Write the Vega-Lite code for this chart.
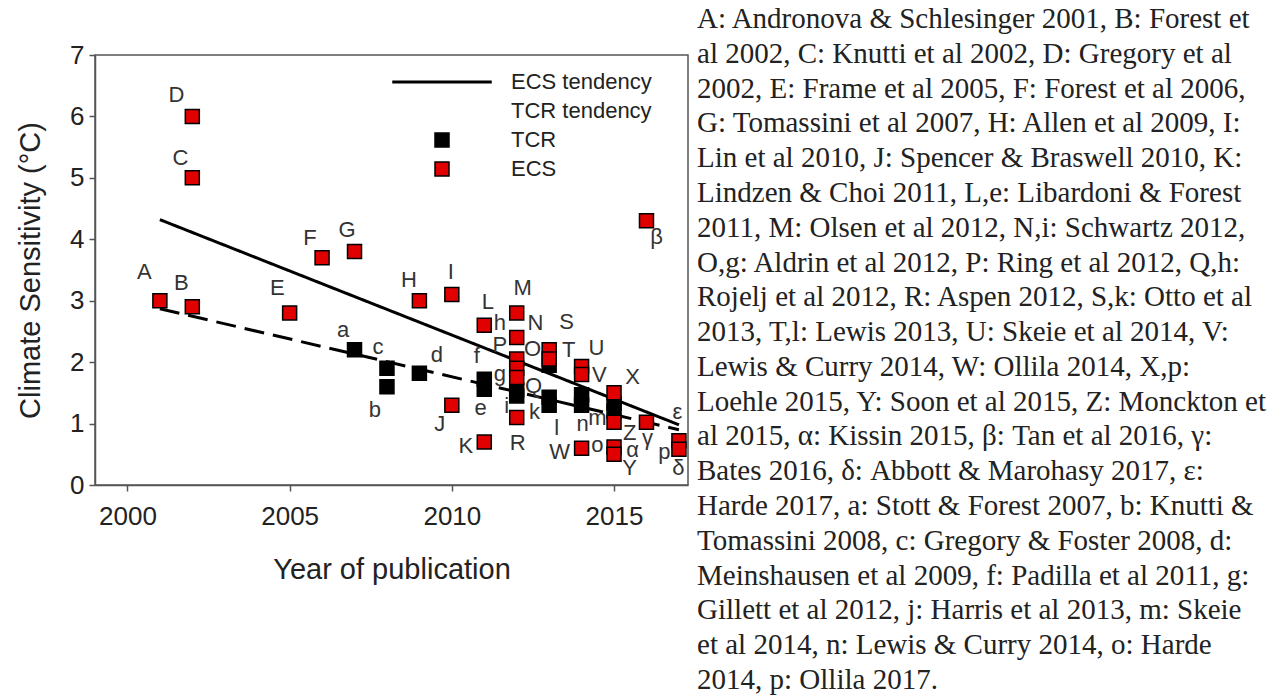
{
  "$schema": "https://vega.github.io/schema/vega-lite/v6.json",
  "autosize": {"type": "none"},
  "width": 593,
  "height": 430,
  "padding": {"left": 95, "top": 55, "right": 593, "bottom": 212},
  "background": "white",
  "config": {
    "font": "Liberation Sans",
    "view": {"stroke": "#555", "strokeWidth": 1.5},
    "axis": {"grid": false, "domainColor": "#555", "domainWidth": 1.5, "tickColor": "#555", "tickWidth": 1.5, "tickSize": 6, "labelColor": "#222", "titleColor": "#222", "labelFont": "Liberation Sans", "titleFont": "Liberation Sans", "titleFontWeight": "normal"}
  },
  "datasets": {
    "trend": [
      {"series": "ECS tendency", "year": 2001, "value": 4.32},
      {"series": "ECS tendency", "year": 2017, "value": 0.98},
      {"series": "TCR tendency", "year": 2001, "value": 2.87},
      {"series": "TCR tendency", "year": 2017, "value": 0.9}
    ],
    "points": [
      {"year": 2007, "value": 2.2, "type": "TCR"},
      {"year": 2008, "value": 1.9, "type": "TCR"},
      {"year": 2008, "value": 1.6, "type": "TCR"},
      {"year": 2009, "value": 1.82, "type": "TCR"},
      {"year": 2011, "value": 1.72, "type": "TCR"},
      {"year": 2011, "value": 1.56, "type": "TCR"},
      {"year": 2012, "value": 1.55, "type": "TCR"},
      {"year": 2012, "value": 1.45, "type": "TCR"},
      {"year": 2013, "value": 1.95, "type": "TCR"},
      {"year": 2013, "value": 1.43, "type": "TCR"},
      {"year": 2013, "value": 1.3, "type": "TCR"},
      {"year": 2014, "value": 1.47, "type": "TCR"},
      {"year": 2014, "value": 1.3, "type": "TCR"},
      {"year": 2015, "value": 1.33, "type": "TCR"},
      {"year": 2015, "value": 1.2, "type": "TCR"},
      {"year": 2001, "value": 3.0, "type": "ECS"},
      {"year": 2002, "value": 2.9, "type": "ECS"},
      {"year": 2002, "value": 5.0, "type": "ECS"},
      {"year": 2002, "value": 6.0, "type": "ECS"},
      {"year": 2005, "value": 2.8, "type": "ECS"},
      {"year": 2006, "value": 3.7, "type": "ECS"},
      {"year": 2007, "value": 3.8, "type": "ECS"},
      {"year": 2009, "value": 3.0, "type": "ECS"},
      {"year": 2010, "value": 3.1, "type": "ECS"},
      {"year": 2010, "value": 1.3, "type": "ECS"},
      {"year": 2011, "value": 0.7, "type": "ECS"},
      {"year": 2011, "value": 2.6, "type": "ECS"},
      {"year": 2012, "value": 2.8, "type": "ECS"},
      {"year": 2012, "value": 2.4, "type": "ECS"},
      {"year": 2012, "value": 2.05, "type": "ECS"},
      {"year": 2012, "value": 1.9, "type": "ECS"},
      {"year": 2012, "value": 1.75, "type": "ECS"},
      {"year": 2012, "value": 1.1, "type": "ECS"},
      {"year": 2013, "value": 2.2, "type": "ECS"},
      {"year": 2013, "value": 2.05, "type": "ECS"},
      {"year": 2014, "value": 1.93, "type": "ECS"},
      {"year": 2014, "value": 1.8, "type": "ECS"},
      {"year": 2014, "value": 0.6, "type": "ECS"},
      {"year": 2015, "value": 1.5, "type": "ECS"},
      {"year": 2015, "value": 1.02, "type": "ECS"},
      {"year": 2015, "value": 0.62, "type": "ECS"},
      {"year": 2015, "value": 0.5, "type": "ECS"},
      {"year": 2016, "value": 4.3, "type": "ECS"},
      {"year": 2016, "value": 1.02, "type": "ECS"},
      {"year": 2017, "value": 0.72, "type": "ECS"},
      {"year": 2017, "value": 0.58, "type": "ECS"}
    ],
    "labels": [
      {"t": "A", "lyear": 2000.52, "lval": 3.47},
      {"t": "B", "lyear": 2001.66, "lval": 3.29},
      {"t": "C", "lyear": 2001.63, "lval": 5.33},
      {"t": "D", "lyear": 2001.51, "lval": 6.35},
      {"t": "E", "lyear": 2004.62, "lval": 3.21},
      {"t": "F", "lyear": 2005.63, "lval": 4.02},
      {"t": "G", "lyear": 2006.77, "lval": 4.15},
      {"t": "H", "lyear": 2008.68, "lval": 3.34},
      {"t": "I", "lyear": 2009.97, "lval": 3.47},
      {"t": "J", "lyear": 2009.63, "lval": 0.99},
      {"t": "K", "lyear": 2010.43, "lval": 0.64},
      {"t": "L", "lyear": 2011.11, "lval": 2.98},
      {"t": "M", "lyear": 2012.18, "lval": 3.21},
      {"t": "h", "lyear": 2011.48, "lval": 2.64},
      {"t": "N", "lyear": 2012.58, "lval": 2.64},
      {"t": "P", "lyear": 2011.48, "lval": 2.28},
      {"t": "O", "lyear": 2012.49, "lval": 2.21},
      {"t": "g", "lyear": 2011.48, "lval": 1.81},
      {"t": "Q", "lyear": 2012.52, "lval": 1.61},
      {"t": "f", "lyear": 2010.77, "lval": 2.1},
      {"t": "e", "lyear": 2010.89, "lval": 1.25},
      {"t": "i", "lyear": 2011.69, "lval": 1.29},
      {"t": "k", "lyear": 2012.55, "lval": 1.19},
      {"t": "R", "lyear": 2012.03, "lval": 0.68},
      {"t": "l", "lyear": 2013.23, "lval": 0.93},
      {"t": "S", "lyear": 2013.54, "lval": 2.65},
      {"t": "T", "lyear": 2013.6, "lval": 2.2},
      {"t": "U", "lyear": 2014.46, "lval": 2.23},
      {"t": "V", "lyear": 2014.55, "lval": 1.79},
      {"t": "X", "lyear": 2015.57, "lval": 1.76},
      {"t": "n", "lyear": 2014.03, "lval": 0.99},
      {"t": "m", "lyear": 2014.49, "lval": 1.09},
      {"t": "W", "lyear": 2013.32, "lval": 0.54},
      {"t": "o", "lyear": 2014.49, "lval": 0.65},
      {"t": "Z", "lyear": 2015.48, "lval": 0.85},
      {"t": "γ", "lyear": 2016.03, "lval": 0.77},
      {"t": "α", "lyear": 2015.57, "lval": 0.57},
      {"t": "Y", "lyear": 2015.48, "lval": 0.28},
      {"t": "p", "lyear": 2016.55, "lval": 0.54},
      {"t": "δ", "lyear": 2016.98, "lval": 0.28},
      {"t": "ε", "lyear": 2016.95, "lval": 1.19},
      {"t": "β", "lyear": 2016.31, "lval": 4.04},
      {"t": "a", "lyear": 2006.65, "lval": 2.52},
      {"t": "c", "lyear": 2007.72, "lval": 2.25},
      {"t": "b", "lyear": 2007.63, "lval": 1.22},
      {"t": "d", "lyear": 2009.54, "lval": 2.12}
    ],
    "refs": [
      {"line": 1, "col": 1, "txt": "A: Andronova & Schlesinger 2001, B: Forest et"},
      {"line": 2, "col": 1, "txt": "al 2002, C: Knutti et al 2002, D: Gregory et al"},
      {"line": 3, "col": 1, "txt": "2002, E: Frame et al 2005, F: Forest et al 2006,"},
      {"line": 4, "col": 1, "txt": "G: Tomassini et al 2007, H: Allen et al 2009, I:"},
      {"line": 5, "col": 1, "txt": "Lin et al 2010, J: Spencer & Braswell 2010, K:"},
      {"line": 6, "col": 1, "txt": "Lindzen & Choi 2011, L,e: Libardoni & Forest"},
      {"line": 7, "col": 1, "txt": "2011, M: Olsen et al 2012, N,i: Schwartz 2012,"},
      {"line": 8, "col": 1, "txt": "O,g: Aldrin et al 2012, P: Ring et al 2012, Q,h:"},
      {"line": 9, "col": 1, "txt": "Rojelj et al 2012, R: Aspen 2012, S,k: Otto et al"},
      {"line": 10, "col": 1, "txt": "2013, T,l: Lewis 2013, U: Skeie et al 2014, V:"},
      {"line": 11, "col": 1, "txt": "Lewis & Curry 2014, W: Ollila 2014, X,p:"},
      {"line": 12, "col": 1, "txt": "Loehle 2015, Y: Soon et al 2015, Z: Monckton et"},
      {"line": 13, "col": 1, "txt": "al 2015, α: Kissin 2015, β: Tan et al  2016, γ:"},
      {"line": 14, "col": 1, "txt": "Bates 2016, δ: Abbott & Marohasy 2017, ε:"},
      {"line": 15, "col": 1, "txt": "Harde 2017, a: Stott & Forest 2007, b: Knutti &"},
      {"line": 16, "col": 1, "txt": "Tomassini 2008, c: Gregory & Foster 2008, d:"},
      {"line": 17, "col": 1, "txt": "Meinshausen et al 2009, f: Padilla et al 2011, g:"},
      {"line": 18, "col": 1, "txt": "Gillett et al 2012, j: Harris et al 2013, m: Skeie"},
      {"line": 19, "col": 1, "txt": "et al 2014, n: Lewis & Curry 2014, o: Harde"},
      {"line": 20, "col": 1, "txt": "2014, p: Ollila 2017."}
    ]
  },
  "resolve": {"scale": {"x": "independent", "y": "independent"}},
  "layer": [
    {
      "layer": [
        {
          "data": {"name": "trend"},
          "mark": {"type": "line", "color": "black", "strokeWidth": 3},
          "encoding": {
            "x": {"field": "year", "type": "quantitative", "scale": {"domain": [1999, 2017.28], "nice": false, "zero": false},
              "axis": {"values": [2000, 2005, 2010, 2015], "format": "d", "title": "Year of publication", "labelFontSize": 26, "titleFontSize": 29, "labelPadding": 12, "titlePadding": 26}},
            "y": {"field": "value", "type": "quantitative", "scale": {"domain": [0, 7], "nice": false},
              "axis": {"values": [0, 1, 2, 3, 4, 5, 6, 7], "format": "d", "title": "Climate Sensitivity (°C)", "labelFontSize": 26, "titleFontSize": 29, "labelPadding": 5, "titlePadding": 24}},
            "detail": {"field": "series"},
            "strokeDash": {"field": "series", "type": "nominal", "scale": {"domain": ["ECS tendency", "TCR tendency"], "range": [[1, 0], [20, 9]]}, "legend": null}
          }
        },
        {
          "data": {"name": "points"},
          "mark": {"type": "point", "filled": true, "stroke": "black", "strokeWidth": 1.5, "size": 196, "opacity": 1},
          "encoding": {
            "x": {"field": "year", "type": "quantitative"},
            "y": {"field": "value", "type": "quantitative"},
            "fill": {"field": "type", "type": "nominal",
              "scale": {"domain": ["ECS tendency", "TCR tendency", "TCR", "ECS"], "range": ["black", "transparent", "black", "#e00000"]},
              "legend": {"orient": "none", "legendX": 336, "legendY": 16, "title": null, "padding": 0, "labelFontSize": 22, "labelFont": "Liberation Sans", "labelColor": "#222", "symbolSize": 196, "symbolStrokeColor": "black", "symbolStrokeWidth": 1.5, "labelOffset": 58, "rowPadding": 7, "symbolOpacity": 1}},
            "shape": {"field": "type", "type": "nominal",
              "scale": {"domain": ["ECS tendency", "TCR tendency", "TCR", "ECS"], "range": ["M-7,-0.12H7V0.12H-7Z", "M0,0", "square", "square"]}}
          }
        },
        {
          "data": {"name": "labels"},
          "mark": {"type": "text", "fontSize": 22, "color": "#333", "align": "center", "baseline": "middle", "font": "Liberation Sans"},
          "encoding": {
            "x": {"field": "lyear", "type": "quantitative"},
            "y": {"field": "lval", "type": "quantitative"},
            "text": {"field": "t"}
          }
        }
      ]
    },
    {
      "data": {"name": "refs"},
      "mark": {"type": "text", "fontSize": 29, "color": "#222", "align": "left", "baseline": "middle", "font": "Liberation Serif"},
      "encoding": {
        "x": {"field": "col", "type": "quantitative", "scale": {"domain": [0, 0.985], "nice": false, "zero": false}, "axis": null},
        "y": {"field": "line", "type": "quantitative", "scale": {"domain": [2.035, 14.395], "nice": false, "zero": false, "reverse": true}, "axis": null},
        "text": {"field": "txt"}
      }
    }
  ]
}
